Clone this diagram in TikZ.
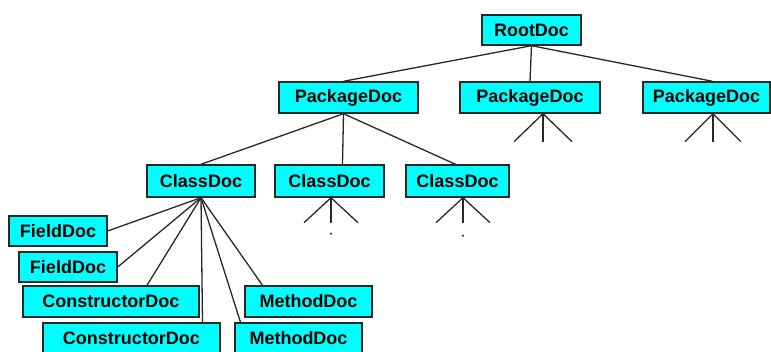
\documentclass[tikz,border=0pt]{standalone}
\usepackage{fontspec}
\setmainfont{Liberation Sans}
\usepackage{tikz}
\usetikzlibrary{positioning}
\definecolor{doccyan}{RGB}{0,255,255}
\definecolor{docline}{RGB}{40,40,40}
\tikzstyle{doc} = [draw=docline, line width=1.4pt, rectangle, fill=doccyan, inner sep=0pt, font=\bfseries\fontsize{18}{20}\selectfont]
\tikzstyle{link} = [draw=docline, line width=1.3pt]

\begin{document}
\begin{tikzpicture}[x=1pt, y=-1pt]
        \useasboundingbox (0,0) rectangle (771,352);

        % Root
        \node[doc, minimum width=99, minimum height=30] (root) at (531.5,30) {RootDoc};

        % Packages
        \node[doc, minimum width=139, minimum height=31] (pkga) at (348.5,97.5) {PackageDoc};
        \node[doc, minimum width=140, minimum height=31] (pkgb) at (530,97.5) {PackageDoc};
        \node[doc, minimum width=127, minimum height=31] (pkgc) at (706.5,97.5) {PackageDoc};

        % Classes
        \node[doc, minimum width=108, minimum height=32] (clsa) at (201,181) {ClassDoc};
        \node[doc, minimum width=109, minimum height=32] (clsb) at (329.5,181) {ClassDoc};
        \node[doc, minimum width=103, minimum height=32] (clsc) at (457.5,181) {ClassDoc};

        % Members of the first class
        \node[doc, minimum width=98, minimum height=30] (flda) at (58,231) {FieldDoc};
        \node[doc, minimum width=98, minimum height=30] (fldb) at (68,267) {FieldDoc};
        \node[doc, minimum width=176, minimum height=31] (cona) at (111,301.5) {ConstructorDoc};
        \node[doc, minimum width=177, minimum height=30] (conb) at (131.5,338) {ConstructorDoc};
        \node[doc, minimum width=127, minimum height=31] (mtha) at (308.5,301.5) {MethodDoc};
        \node[doc, minimum width=127, minimum height=30] (mthb) at (298.5,338) {MethodDoc};

        % Links
        \draw[link] (root.south) -- ([xshift=-5]pkga.north);
        \draw[link] (root.south) -- (pkgb.north);
        \draw[link] (root.south) -- ([xshift=6]pkgc.north);
        \draw[link] ([xshift=-5]pkga.south) -- (clsa.north);
        \draw[link] ([xshift=-5]pkga.south) -- ([xshift=13]clsb.north);
        \draw[link] ([xshift=-5]pkga.south) -- ([xshift=-2]clsc.north);
        \draw[link] (clsa.south) -- (flda.east);
        \draw[link] (clsa.south) -- (fldb.east);
        \draw[link] (clsa.south) -- ([xshift=36]cona.north);
        \draw[link] (clsa.south) -- ([xshift=71]conb.north);
        \draw[link] (clsa.south) -- ([xshift=-58]mthb.north);
        \draw[link] (clsa.south) -- ([xshift=-46]mtha.north);

        % Stubs for the collapsed subtrees
        \foreach \p/\dx/\w/\h in {pkgb/13/29/28, pkgc/6.5/28/28, clsb/1.5/27/25, clsc/5.5/27/25} {
            \coordinate (\p-top) at ([xshift=\dx]\p.south);
            \coordinate (\p-l) at ([xshift=-\w, yshift=-\h]\p-top);
            \coordinate (\p-m) at ([yshift=-\h]\p-top);
            \coordinate (\p-r) at ([xshift=\w, yshift=-\h]\p-top);
            \draw[link] (\p-top) -- (\p-l);
            \draw[link] (\p-top) -- (\p-m);
            \draw[link] (\p-top) -- (\p-r);
        }
        \fill[docline] ([yshift=-11]clsb-m) circle (1.2);
        \fill[docline] ([yshift=-13]clsc-m) circle (1.2);

    \end{tikzpicture}
\end{document}
